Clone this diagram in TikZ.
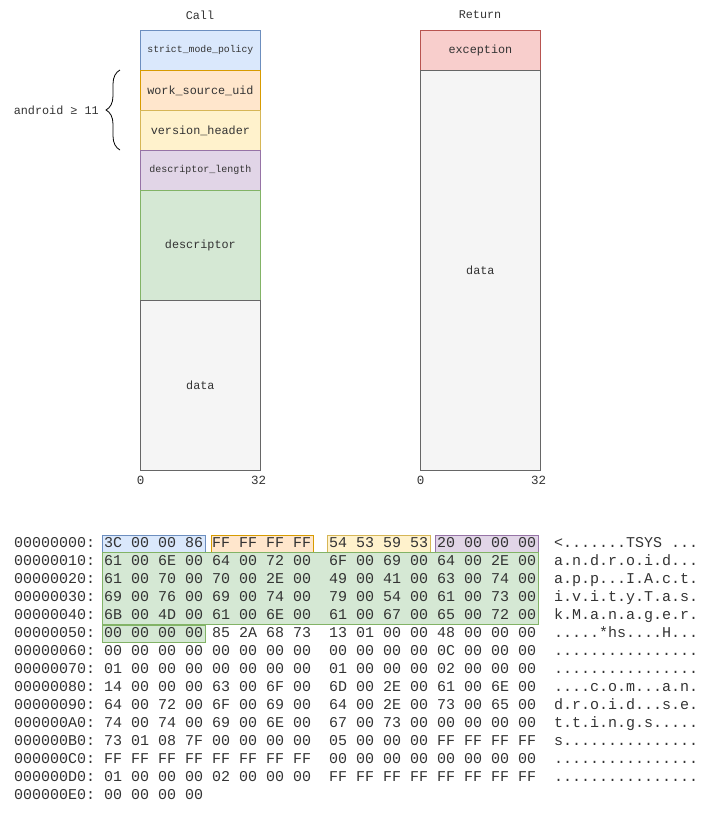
\documentclass[tikz,border=0pt]{standalone}
\usepackage{fontspec}
\newfontfamily\mono{Liberation Mono}
\usetikzlibrary{decorations.pathreplacing}
\definecolor{bfill}{HTML}{DAE8FC}\definecolor{bline}{HTML}{6C8EBF}
\definecolor{ofill}{HTML}{FFE6CC}\definecolor{oline}{HTML}{D79B00}
\definecolor{yfill}{HTML}{FFF2CC}\definecolor{yline}{HTML}{D6B656}
\definecolor{pfill}{HTML}{E1D5E7}\definecolor{pline}{HTML}{9673A6}
\definecolor{gfill}{HTML}{D5E8D4}\definecolor{gline}{HTML}{82B366}
\definecolor{rfill}{HTML}{F8CECC}\definecolor{rline}{HTML}{B85450}
\definecolor{dfill}{HTML}{F5F5F5}\definecolor{dline}{HTML}{666666}
\definecolor{txt}{HTML}{333333}
\newcommand\hexrow[5]{%
  \node[hex] (a#1) at (14,{547.5+18*#1}) {#2};
  \node[hex] (h#1) at (104,{547.5+18*#1}) {#3};
  \node[hex] (k#1) at (329,{547.5+18*#1}) {#4};
  \node[hex] (s#1) at (554,{547.5+18*#1}) {#5};}
\begin{document}
\begin{tikzpicture}[x=1pt,y=-1pt,
  field/.style={draw, line width=0.8pt, minimum width=120pt, inner sep=0pt, anchor=north west, text=txt, font=\mono\fontsize{11.8}{14}\selectfont},
  small/.style={font=\mono\fontsize{9.8}{12}\selectfont},
  lbl/.style={text=txt, inner sep=0pt, font=\mono\fontsize{11.8}{14}\selectfont},
  axis/.style={text=txt, inner sep=0pt, font=\mono\fontsize{12.5}{14}\selectfont},
  hex/.style={anchor=base west, inner sep=0pt, text=txt, font=\mono\fontsize{15}{18}\selectfont},
  hl/.style={line width=0.9pt}]
\useasboundingbox (0,0) rectangle (724,820);
% headers
\node[lbl] (callt) at (200,15) {Call};
\node[lbl] (rett) at (480,15) {Return};
% call column
\node[field, small, fill=bfill, draw=bline, minimum height=40pt] (smp) at (140,30) {strict\_mode\_policy};
\node[field, fill=ofill, draw=oline, minimum height=40pt] (wsu) at (140,70) {work\_source\_uid};
\node[field, fill=yfill, draw=yline, minimum height=40pt] (vh) at (140,110) {version\_header};
\node[field, small, font=\mono\fontsize{10}{12}\selectfont, fill=pfill, draw=pline, minimum height=40pt] (dl) at (140,150) {descriptor\_length};
\node[field, fill=gfill, draw=gline, minimum height=110pt] (desc) at (140,190) {descriptor};
\node[field, fill=dfill, draw=dline, minimum height=170pt] (cdata) at (140,300) {data};
% return column
\node[field, fill=rfill, draw=rline, minimum height=40pt] (exc) at (420,30) {exception};
\node[field, fill=dfill, draw=dline, minimum height=400pt] (rdata) at (420,70) {data};
% axis labels
\node[axis] (c0) at (140.5,480) {0};
\node[axis] (c32) at (258.5,480) {32};
\node[axis] (r0) at (420.5,480) {0};
\node[axis] (r32) at (538.5,480) {32};
% brace
\coordinate (bt) at (120,70);
\coordinate (bb) at (120,150);
\draw[line width=0.8pt, decorate, decoration={brace, amplitude=14pt}] (bb) -- (bt);
\node[lbl, anchor=east] (andr) at (99,110) {android ≥ 11};
% hex highlight boxes
\path[hl, fill=bfill, draw=bline] (102,535) rectangle (205,552);
\path[hl, fill=ofill, draw=oline] (211,535) rectangle (313,552);
\path[hl, fill=yfill, draw=yline] (327,535) rectangle (430,552);
\path[hl, fill=pfill, draw=pline] (435,535) rectangle (538,552);
\path[hl, fill=gfill, draw=gline] (102,552) rectangle (538,624);
\path[hl, fill=gfill, draw=gline] (102,625) rectangle (205,642);
% hex dump
\hexrow{0}{00000000:}{3C 00 00 86 FF FF FF FF}{54 53 59 53 20 00 00 00}{<.......TSYS ...}
\hexrow{1}{00000010:}{61 00 6E 00 64 00 72 00}{6F 00 69 00 64 00 2E 00}{a.n.d.r.o.i.d...}
\hexrow{2}{00000020:}{61 00 70 00 70 00 2E 00}{49 00 41 00 63 00 74 00}{a.p.p...I.A.c.t.}
\hexrow{3}{00000030:}{69 00 76 00 69 00 74 00}{79 00 54 00 61 00 73 00}{i.v.i.t.y.T.a.s.}
\hexrow{4}{00000040:}{6B 00 4D 00 61 00 6E 00}{61 00 67 00 65 00 72 00}{k.M.a.n.a.g.e.r.}
\hexrow{5}{00000050:}{00 00 00 00 85 2A 68 73}{13 01 00 00 48 00 00 00}{.....*hs....H...}
\hexrow{6}{00000060:}{00 00 00 00 00 00 00 00}{00 00 00 00 0C 00 00 00}{................}
\hexrow{7}{00000070:}{01 00 00 00 00 00 00 00}{01 00 00 00 02 00 00 00}{................}
\hexrow{8}{00000080:}{14 00 00 00 63 00 6F 00}{6D 00 2E 00 61 00 6E 00}{....c.o.m...a.n.}
\hexrow{9}{00000090:}{64 00 72 00 6F 00 69 00}{64 00 2E 00 73 00 65 00}{d.r.o.i.d...s.e.}
\hexrow{10}{000000A0:}{74 00 74 00 69 00 6E 00}{67 00 73 00 00 00 00 00}{t.t.i.n.g.s.....}
\hexrow{11}{000000B0:}{73 01 08 7F 00 00 00 00}{05 00 00 00 FF FF FF FF}{s...............}
\hexrow{12}{000000C0:}{FF FF FF FF FF FF FF FF}{00 00 00 00 00 00 00 00}{................}
\hexrow{13}{000000D0:}{01 00 00 00 02 00 00 00}{FF FF FF FF FF FF FF FF}{................}
\node[hex] (a14) at (14,{547.5+18*14}) {000000E0:};
\node[hex] (h14) at (104,{547.5+18*14}) {00 00 00 00};
\end{tikzpicture}
\end{document}
